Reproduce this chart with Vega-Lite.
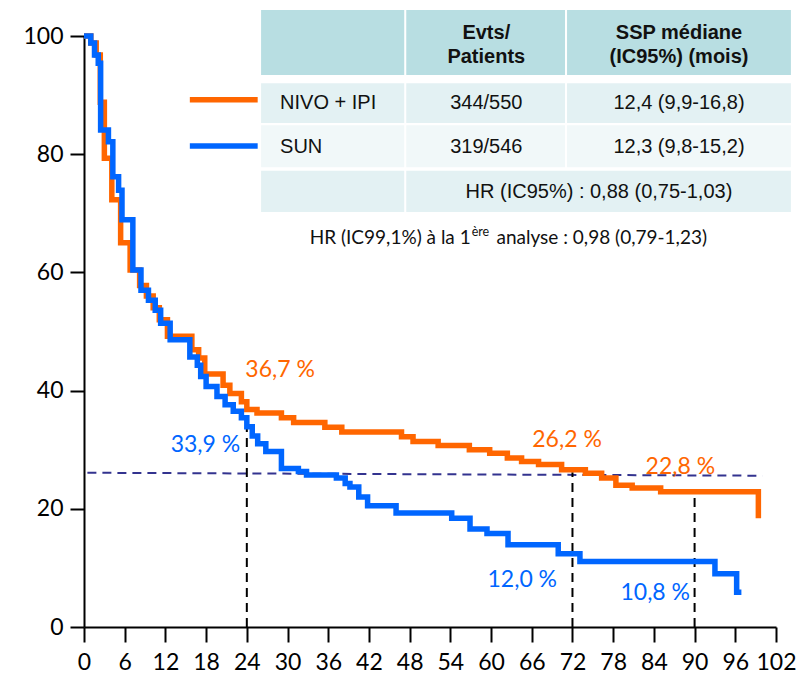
{
  "$schema": "https://vega.github.io/schema/vega-lite/v6.json",
  "width": 692,
  "height": 591,
  "autosize": {"type": "none"},
  "padding": {"left": 84, "top": 36, "right": 20, "bottom": 50},
  "background": "white",
  "config": {
    "view": {"stroke": null},
    "axis": {"grid": false, "domainColor": "black", "domainWidth": 2, "tickColor": "black", "tickWidth": 2, "labelColor": "black", "labelFont": "Lato", "labelFontSize": 23, "title": null}
  },
  "datasets": {
    "km": [
      {"g": "NIVO + IPI", "x": 0, "y": 100}, {"g": "NIVO + IPI", "x": 1.0, "y": 98.8}, {"g": "NIVO + IPI", "x": 1.8, "y": 96.8}, {"g": "NIVO + IPI", "x": 2.4, "y": 88.8}, {"g": "NIVO + IPI", "x": 3.0, "y": 79.3}, {"g": "NIVO + IPI", "x": 4.1, "y": 72.3}, {"g": "NIVO + IPI", "x": 5.4, "y": 65.0}, {"g": "NIVO + IPI", "x": 6.8, "y": 60.4}, {"g": "NIVO + IPI", "x": 8.2, "y": 57.8}, {"g": "NIVO + IPI", "x": 9.2, "y": 56.0}, {"g": "NIVO + IPI", "x": 10.2, "y": 54.0}, {"g": "NIVO + IPI", "x": 11.1, "y": 52.0}, {"g": "NIVO + IPI", "x": 12.3, "y": 49.2}, {"g": "NIVO + IPI", "x": 15.9, "y": 46.9}, {"g": "NIVO + IPI", "x": 16.9, "y": 45.5}, {"g": "NIVO + IPI", "x": 17.8, "y": 42.8}, {"g": "NIVO + IPI", "x": 20.5, "y": 40.9}, {"g": "NIVO + IPI", "x": 21.5, "y": 39.5}, {"g": "NIVO + IPI", "x": 23.2, "y": 38.1}, {"g": "NIVO + IPI", "x": 24.0, "y": 36.8}, {"g": "NIVO + IPI", "x": 25.5, "y": 36.2}, {"g": "NIVO + IPI", "x": 29.1, "y": 35.4}, {"g": "NIVO + IPI", "x": 30.9, "y": 34.6}, {"g": "NIVO + IPI", "x": 35.5, "y": 33.8}, {"g": "NIVO + IPI", "x": 38.0, "y": 33.0}, {"g": "NIVO + IPI", "x": 46.8, "y": 32.2}, {"g": "NIVO + IPI", "x": 48.5, "y": 31.4}, {"g": "NIVO + IPI", "x": 52.2, "y": 30.7}, {"g": "NIVO + IPI", "x": 56.8, "y": 30.0}, {"g": "NIVO + IPI", "x": 59.8, "y": 29.4}, {"g": "NIVO + IPI", "x": 62.4, "y": 28.6}, {"g": "NIVO + IPI", "x": 64.5, "y": 28.0}, {"g": "NIVO + IPI", "x": 67.0, "y": 27.5}, {"g": "NIVO + IPI", "x": 70.4, "y": 26.6}, {"g": "NIVO + IPI", "x": 73.9, "y": 26.0}, {"g": "NIVO + IPI", "x": 76.3, "y": 25.2}, {"g": "NIVO + IPI", "x": 78.4, "y": 24.0}, {"g": "NIVO + IPI", "x": 80.8, "y": 23.5}, {"g": "NIVO + IPI", "x": 85.0, "y": 22.9}, {"g": "NIVO + IPI", "x": 99.4, "y": 18.4},
      {"g": "SUN", "x": 0, "y": 100}, {"g": "SUN", "x": 1.0, "y": 98.8}, {"g": "SUN", "x": 1.55, "y": 96.8}, {"g": "SUN", "x": 2.1, "y": 95.4}, {"g": "SUN", "x": 2.45, "y": 84.1}, {"g": "SUN", "x": 3.6, "y": 82.1}, {"g": "SUN", "x": 4.25, "y": 76.2}, {"g": "SUN", "x": 5.1, "y": 73.9}, {"g": "SUN", "x": 5.6, "y": 68.9}, {"g": "SUN", "x": 7.2, "y": 60.4}, {"g": "SUN", "x": 8.4, "y": 57.0}, {"g": "SUN", "x": 9.5, "y": 55.3}, {"g": "SUN", "x": 10.5, "y": 53.6}, {"g": "SUN", "x": 11.3, "y": 51.4}, {"g": "SUN", "x": 12.7, "y": 48.6}, {"g": "SUN", "x": 15.6, "y": 45.7}, {"g": "SUN", "x": 16.7, "y": 44.3}, {"g": "SUN", "x": 17.2, "y": 42.4}, {"g": "SUN", "x": 18.0, "y": 40.7}, {"g": "SUN", "x": 19.6, "y": 39.0}, {"g": "SUN", "x": 20.8, "y": 37.6}, {"g": "SUN", "x": 22.0, "y": 36.5}, {"g": "SUN", "x": 23.2, "y": 35.4}, {"g": "SUN", "x": 24.0, "y": 33.9}, {"g": "SUN", "x": 24.8, "y": 32.3}, {"g": "SUN", "x": 25.6, "y": 31.0}, {"g": "SUN", "x": 26.8, "y": 29.7}, {"g": "SUN", "x": 29.1, "y": 26.8}, {"g": "SUN", "x": 31.6, "y": 26.3}, {"g": "SUN", "x": 32.8, "y": 25.7}, {"g": "SUN", "x": 37.2, "y": 25.2}, {"g": "SUN", "x": 38.5, "y": 24.3}, {"g": "SUN", "x": 39.2, "y": 23.7}, {"g": "SUN", "x": 40.5, "y": 22.0}, {"g": "SUN", "x": 41.8, "y": 20.5}, {"g": "SUN", "x": 46.0, "y": 19.3}, {"g": "SUN", "x": 54.2, "y": 18.4}, {"g": "SUN", "x": 56.9, "y": 16.6}, {"g": "SUN", "x": 59.4, "y": 15.8}, {"g": "SUN", "x": 62.5, "y": 13.9}, {"g": "SUN", "x": 69.9, "y": 12.4}, {"g": "SUN", "x": 73.1, "y": 11.1}, {"g": "SUN", "x": 93.0, "y": 9.0}, {"g": "SUN", "x": 96.2, "y": 5.9}, {"g": "SUN", "x": 96.9, "y": 5.9}
    ],
    "cells": [
      {"k": "header", "x": 26.1, "x2": 47.2, "y": 104.4, "y2": 93.4},
      {"k": "header", "x": 47.5, "x2": 70.9, "y": 104.4, "y2": 93.4},
      {"k": "header", "x": 71.2, "x2": 104.2, "y": 104.4, "y2": 93.4},
      {"k": "nivo", "x": 26.1, "x2": 47.2, "y": 92.0, "y2": 85.3},
      {"k": "nivo", "x": 47.5, "x2": 70.9, "y": 92.0, "y2": 85.3},
      {"k": "nivo", "x": 71.2, "x2": 104.2, "y": 92.0, "y2": 85.3},
      {"k": "sun", "x": 26.1, "x2": 47.2, "y": 84.9, "y2": 77.8},
      {"k": "sun", "x": 47.5, "x2": 70.9, "y": 84.9, "y2": 77.8},
      {"k": "sun", "x": 71.2, "x2": 104.2, "y": 84.9, "y2": 77.8},
      {"k": "hr", "x": 26.1, "x2": 47.2, "y": 77.2, "y2": 70.2},
      {"k": "hr", "x": 47.5, "x2": 104.2, "y": 77.2, "y2": 70.2}
    ],
    "legendLines": [
      {"g": "NIVO + IPI", "x": 15.6, "x2": 25.6, "y": 89.2},
      {"g": "SUN", "x": 15.6, "x2": 25.6, "y": 81.4}
    ],
    "headText": [
      {"t": "Evts/", "x": 59.3, "y": 100.5},
      {"t": "Patients", "x": 59.3, "y": 96.4},
      {"t": "SSP médiane", "x": 87.7, "y": 100.5},
      {"t": "(IC95%) (mois)", "x": 87.7, "y": 96.4}
    ],
    "bodyText": [
      {"t": "344/550", "x": 59.3, "y": 88.7},
      {"t": "12,4 (9,9-16,8)", "x": 87.7, "y": 88.7},
      {"t": "319/546", "x": 59.3, "y": 81.2},
      {"t": "12,3 (9,8-15,2)", "x": 87.7, "y": 81.2},
      {"t": "HR (IC95%) : 0,88 (0,75-1,03)", "x": 75.9, "y": 73.6}
    ],
    "armText": [
      {"t": "NIVO + IPI", "x": 28.9, "y": 88.7},
      {"t": "SUN", "x": 28.9, "y": 81.2}
    ],
    "annot": [
      {"g": "NIVO + IPI", "t": "36,7 %", "x": 28.9, "y": 43.5},
      {"g": "SUN", "t": "33,9 %", "x": 17.9, "y": 30.8},
      {"g": "NIVO + IPI", "t": "26,2 %", "x": 71.2, "y": 31.6},
      {"g": "NIVO + IPI", "t": "22,8 %", "x": 87.9, "y": 27.1},
      {"g": "SUN", "t": "12,0 %", "x": 64.6, "y": 7.95},
      {"g": "SUN", "t": "10,8 %", "x": 84.2, "y": 5.75}
    ],
    "vlines": [
      {"x": 24, "y": 0, "y2": 34.2},
      {"x": 72, "y": 0, "y2": 26.2},
      {"x": 90, "y": 0, "y2": 22.4}
    ],
    "hline": [
      {"x": 0.5, "x2": 100, "y": 26.1, "y2": 25.6}
    ],
    "foot1": [{"t": "HR (IC99,1%) à la 1", "x": 57.0, "y": 65.8}],
    "foot2": [{"t": "ère", "x": 57.15, "y": 66.9}],
    "foot3": [{"t": "analyse : 0,98 (0,79-1,23)", "x": 60.8, "y": 65.8}]
  },
  "encoding": {
    "x": {"field": "x", "type": "quantitative", "scale": {"domain": [0, 102], "nice": false, "zero": false},
      "axis": {"values": [0, 6, 12, 18, 24, 30, 36, 42, 48, 54, 60, 66, 72, 78, 84, 90, 96, 102], "tickSize": 15, "labelPadding": 9, "labelFlush": false, "labelOverlap": false}},
    "y": {"field": "y", "type": "quantitative", "scale": {"domain": [0, 100], "nice": false, "zero": false},
      "axis": {"values": [0, 20, 40, 60, 80, 100], "tickSize": 14, "labelPadding": 7}}
  },
  "layer": [
    {
      "data": {"name": "cells"},
      "mark": {"type": "rect"},
      "encoding": {
        "x2": {"field": "x2"},
        "y2": {"field": "y2"},
        "fill": {"field": "k", "type": "nominal", "legend": null,
          "scale": {"domain": ["header", "nivo", "sun", "hr"], "range": ["#B8DEE2", "#E3F1F3", "#F1F8F9", "#E3F1F3"]}}
      }
    },
    {
      "data": {"name": "legendLines"},
      "mark": {"type": "rule", "strokeWidth": 5.5},
      "encoding": {
        "x2": {"field": "x2"},
        "color": {"field": "g", "type": "nominal", "legend": null, "scale": {"domain": ["NIVO + IPI", "SUN"], "range": ["#FF6600", "#0066FF"]}}
      }
    },
    {
      "data": {"name": "headText"},
      "mark": {"type": "text", "font": "Liberation Sans", "fontSize": 20, "fontWeight": "bold", "align": "center", "baseline": "middle", "color": "#111111"},
      "encoding": {"text": {"field": "t"}}
    },
    {
      "data": {"name": "bodyText"},
      "mark": {"type": "text", "font": "Liberation Sans", "fontSize": 20, "align": "center", "baseline": "middle", "color": "#111111"},
      "encoding": {"text": {"field": "t"}}
    },
    {
      "data": {"name": "armText"},
      "mark": {"type": "text", "font": "Liberation Sans", "fontSize": 20, "align": "left", "baseline": "middle", "color": "#111111"},
      "encoding": {"text": {"field": "t"}}
    },
    {
      "data": {"name": "foot1"},
      "mark": {"type": "text", "font": "Lato", "fontSize": 19, "align": "right", "baseline": "middle", "color": "#111111"},
      "encoding": {"text": {"field": "t"}}
    },
    {
      "data": {"name": "foot2"},
      "mark": {"type": "text", "font": "Lato", "fontSize": 12.5, "align": "left", "baseline": "middle", "color": "#111111"},
      "encoding": {"text": {"field": "t"}}
    },
    {
      "data": {"name": "foot3"},
      "mark": {"type": "text", "font": "Lato", "fontSize": 19, "align": "left", "baseline": "middle", "color": "#111111"},
      "encoding": {"text": {"field": "t"}}
    },
    {
      "data": {"name": "hline"},
      "mark": {"type": "rule", "color": "#33338F", "strokeWidth": 2, "strokeDash": [9, 6]},
      "encoding": {"x2": {"field": "x2"}, "y2": {"field": "y2"}}
    },
    {
      "data": {"name": "vlines"},
      "mark": {"type": "rule", "color": "black", "strokeWidth": 2, "strokeDash": [9, 6]},
      "encoding": {"y2": {"field": "y2"}}
    },
    {
      "data": {"name": "km"},
      "transform": [{"filter": "datum.g === 'NIVO + IPI'"}],
      "mark": {"type": "line", "interpolate": "step-after", "strokeWidth": 5.5, "strokeCap": "butt"},
      "encoding": {"color": {"field": "g", "type": "nominal", "legend": null, "scale": {"domain": ["NIVO + IPI", "SUN"], "range": ["#FF6600", "#0066FF"]}}}
    },
    {
      "data": {"name": "km"},
      "transform": [{"filter": "datum.g === 'SUN'"}],
      "mark": {"type": "line", "interpolate": "step-after", "strokeWidth": 5.5, "strokeCap": "butt"},
      "encoding": {"color": {"field": "g", "type": "nominal", "legend": null, "scale": {"domain": ["NIVO + IPI", "SUN"], "range": ["#FF6600", "#0066FF"]}}}
    },
    {
      "data": {"name": "annot"},
      "mark": {"type": "text", "font": "Lato", "fontSize": 23, "align": "center", "baseline": "middle"},
      "encoding": {
        "text": {"field": "t"},
        "color": {"field": "g", "type": "nominal", "legend": null, "scale": {"domain": ["NIVO + IPI", "SUN"], "range": ["#FF6600", "#0066FF"]}}
      }
    }
  ]
}
